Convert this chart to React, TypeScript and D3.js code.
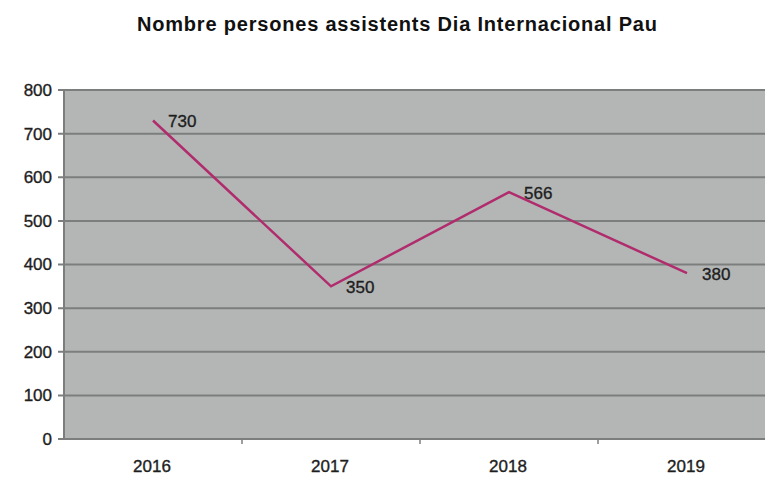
import * as d3 from "d3";

const years = ["2016", "2017", "2018", "2019"];
const attendees = [730, 350, 566, 380];
const yTicks = [0, 100, 200, 300, 400, 500, 600, 700, 800];

export default function App() {
  const width = 769;
  const height = 494;
  const margin = { top: 90, left: 64, bottom: 55 };
  const plotRight = 765;
  const innerHeight = height - margin.top - margin.bottom;

  const xScale = d3
    .scaleBand()
    .domain(years)
    .range([margin.left, margin.left + 178 * years.length]);

  const yScale = d3
    .scaleLinear()
    .domain([0, 800])
    .range([margin.top + innerHeight, margin.top]);

  const line = d3
    .line<number>()
    .x((_, i) => xScale(years[i])! + xScale.bandwidth() / 2)
    .y((d) => yScale(d));

  const font = "'Liberation Sans', Arial, sans-serif";
  const label = { fontSize: 17, fontFamily: font, fill: "#1e1e1e", stroke: "#1e1e1e", strokeWidth: 0.35 };

  return (
    <svg
      width={width}
      height={height}
      style={{ position: "absolute", left: 0, top: 0, background: "white" }}
    >
      <text
        x={137}
        y={31}
        fontSize={20}
        fontWeight="bold"
        fontFamily={font}
        fill="#111"
        textLength={520}
        lengthAdjust="spacing"
      >
        Nombre persones assistents Dia Internacional Pau
      </text>
      <rect
        x={margin.left}
        y={margin.top}
        width={plotRight - margin.left}
        height={innerHeight}
        fill="#b4b6b6"
      />
      {yTicks.map((t) => (
        <g key={t}>
          <line
            x1={margin.left - 6}
            x2={plotRight}
            y1={yScale(t)}
            y2={yScale(t)}
            stroke="#7c7e7e"
            strokeWidth={2}
          />
          <text x={52} y={yScale(t)} dy="0.35em" textAnchor="end" {...label}>
            {t}
          </text>
        </g>
      ))}
      <line
        x1={margin.left}
        x2={margin.left}
        y1={margin.top}
        y2={yScale(0)}
        stroke="#7c7e7e"
        strokeWidth={2}
      />
      {years.map((y) => (
        <g key={y}>
          <line
            x1={xScale(y)! + xScale.bandwidth()}
            x2={xScale(y)! + xScale.bandwidth()}
            y1={yScale(0)}
            y2={yScale(0) + 5}
            stroke="#7c7e7e"
            strokeWidth={1.5}
          />
          <text
            x={xScale(y)! + xScale.bandwidth() / 2 - 1}
            y={yScale(0) + 33}
            textAnchor="middle"
            {...label}
          >
            {y}
          </text>
        </g>
      ))}
      <path
        d={line(attendees) ?? ""}
        fill="none"
        stroke="#b02c6c"
        strokeWidth={2.5}
      />
      {attendees.map((v, i) => (
        <text
          key={i}
          x={xScale(years[i])! + xScale.bandwidth() / 2 + 15}
          y={yScale(v) + 1}
          dy="0.35em"
          {...label}
        >
          {v}
        </text>
      ))}
    </svg>
  );
}
